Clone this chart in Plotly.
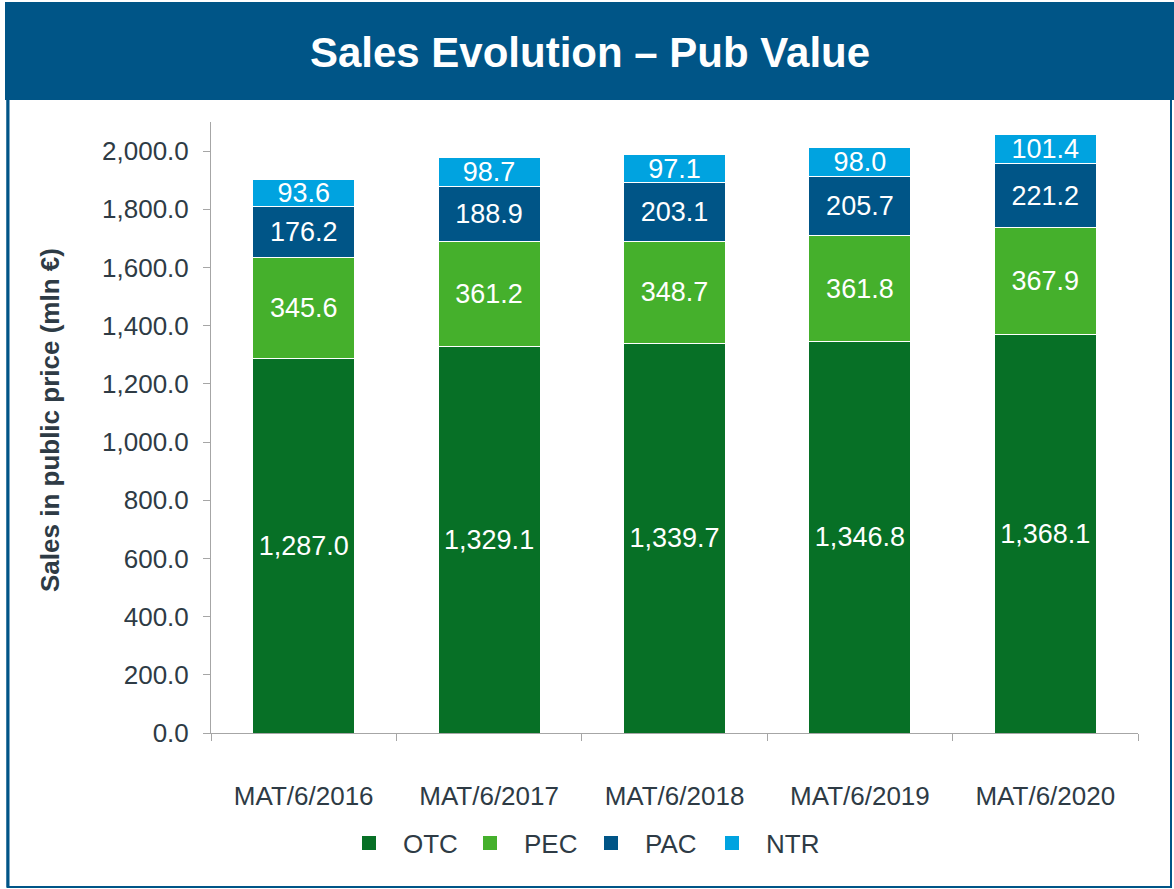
import plotly.graph_objects as go

categories = ["MAT/6/2016", "MAT/6/2017", "MAT/6/2018", "MAT/6/2019", "MAT/6/2020"]
otc = [1287.0, 1329.1, 1339.7, 1346.8, 1368.1]
pec = [345.6, 361.2, 348.7, 361.8, 367.9]
pac = [176.2, 188.9, 203.1, 205.7, 221.2]
ntr = [93.6, 98.7, 97.1, 98.0, 101.4]
series = [("OTC", otc, "#077026"), ("PEC", pec, "#45B02C"), ("PAC", pac, "#005587"), ("NTR", ntr, "#00A3E0")]

W, H = 1174, 889
L, R, T, B = 211, 1138, 122, 733
FONT = "Arial, Liberation Sans, sans-serif"
TXT = "#2E3B45"

def px(x):
    return (x - L) / (R - L)

def py(y):
    return (B - y) / (B - T)

fig = go.Figure()
for name, vals, col in series:
    fig.add_trace(go.Bar(
        x=categories, y=vals, name=name, showlegend=False,
        marker=dict(color=col, line=dict(color="white", width=1)),
        text=[f"{v:,.1f}" for v in vals], textposition="inside",
        insidetextanchor="middle", constraintext="none", textangle=0,
        textfont=dict(color="white", size=27, family=FONT),
        width=0.55, hoverinfo="skip",
    ))
# legend entries (square markers)
for name, vals, col in series:
    fig.add_trace(go.Scatter(
        x=[None], y=[None], mode="markers", name=name,
        marker=dict(symbol="square", size=14, color=col), hoverinfo="skip",
    ))

shapes = [
    dict(type="rect", xref="paper", yref="paper", x0=px(7.5), x1=px(1171), y0=py(887), y1=py(3),
         line=dict(color="#005587", width=2), fillcolor="rgba(0,0,0,0)", layer="below"),
    dict(type="line", xref="paper", yref="paper", x0=px(8), x1=px(8), y0=py(887), y1=py(98),
         line=dict(color="#005587", width=3)),
    dict(type="rect", xref="paper", yref="paper", x0=px(5), x1=px(1174), y0=py(100), y1=py(2),
         line=dict(width=0), fillcolor="#005587"),
]

fig.update_layout(
    width=W, height=H, barmode="stack",
    margin=dict(l=L, r=W - R, t=T, b=H - B),
    paper_bgcolor="white", plot_bgcolor="white",
    font=dict(family=FONT, color=TXT, size=26),
    title=dict(text="<b>Sales Evolution – Pub Value</b>", x=590 / W, xanchor="center",
               y=1 - 52 / H, yanchor="middle", font=dict(color="white", size=42, family=FONT)),
    shapes=shapes,
    showlegend=True,
    legend=dict(orientation="h", x=px(577), xanchor="center", y=py(843), yanchor="middle",
                font=dict(size=26, color=TXT), traceorder="normal", itemclick=False,
                itemwidth=58, entrywidth=48, entrywidthmode="pixels"),
    annotations=[dict(text="<b>Sales in public price (mln €)</b>", xref="paper", yref="paper",
                      x=px(50), y=py(420), textangle=-90, showarrow=False,
                      font=dict(size=26, color=TXT, family=FONT), xanchor="center", yanchor="middle")],
)
fig.update_xaxes(type="category", showline=True, linecolor="#A6A6A6", linewidth=1,
                 ticks="outside", tickson="boundaries", ticklen=7, tickcolor="#A6A6A6",
                 ticklabelstandoff=40, showgrid=False, tickfont=dict(size=26, color=TXT))
fig.update_yaxes(range=[0, 2100], dtick=200, tick0=0, tickformat=",.1f", showline=True,
                 linecolor="#A6A6A6", linewidth=1, ticks="outside", ticklen=7, tickcolor="#A6A6A6",
                 showgrid=False, zeroline=False, ticklabelstandoff=9, tickfont=dict(size=26, color=TXT))

fig.write_html("out.html", config={"displayModeBar": False},
               post_script="document.body.style.margin='0';document.body.style.overflow='hidden';")
